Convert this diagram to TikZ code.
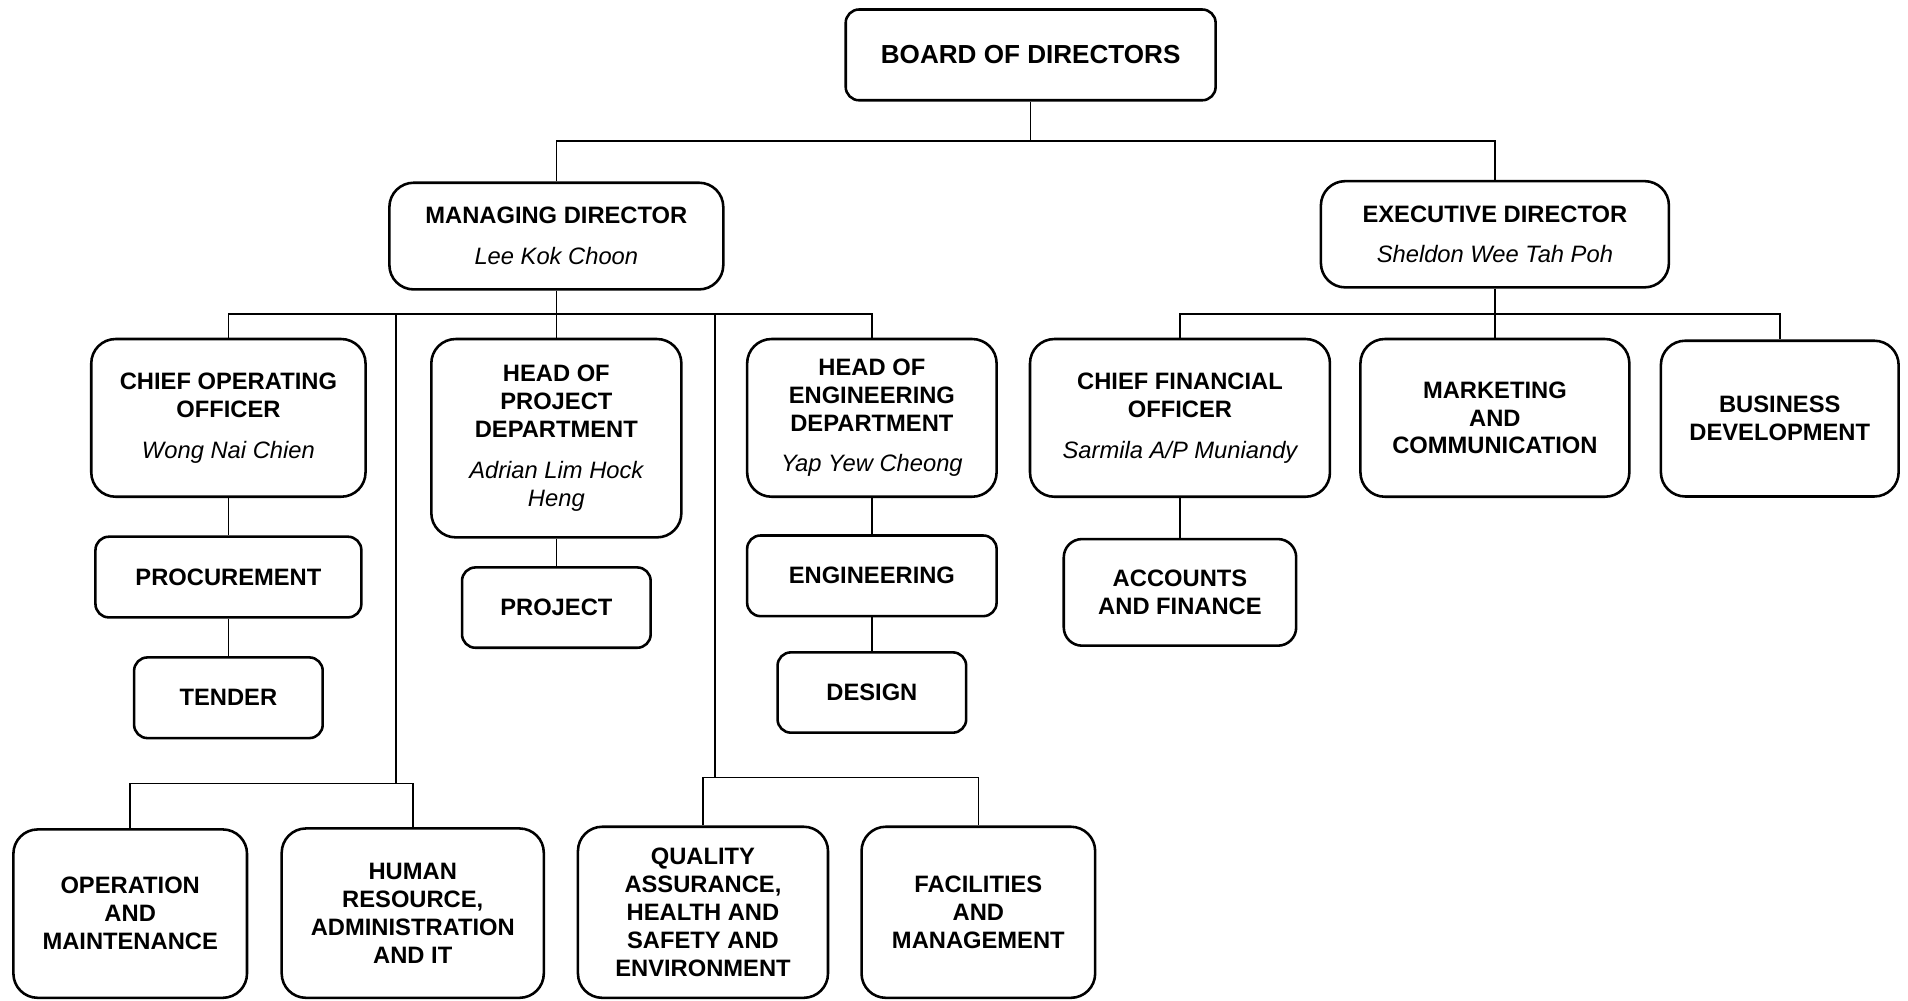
\documentclass[tikz,border=0pt]{standalone}
\usepackage{fontspec}
\setmainfont{Liberation Sans}
\newcommand{\pname}[1]{\\[3pt]{\mdseries\itshape #1}}

\begin{document}
\begin{tikzpicture}[every node/.style={font=\fontsize{5.55}{6.52}\selectfont\bfseries},
unit/.style={draw=black, line width=0.6pt, rounded corners=0.11cm, align=center, inner sep=0pt},
block/.style={unit, rounded corners=0.2cm},
link/.style={draw=black, line width=0.35pt}]
\useasboundingbox (0,0) rectangle (15.68,-8.22);
\node[unit,minimum width=3.04cm,minimum height=0.746cm,font=\fontsize{6.1}{7}\selectfont\bfseries] (board) at (8.47,-0.451) {BOARD OF DIRECTORS};
\node[block,minimum width=2.744cm,minimum height=0.877cm] (md) at (4.572,-1.94) {MANAGING DIRECTOR\pname{Lee Kok Choon}};
\node[block,minimum width=2.86cm,minimum height=0.873cm] (ed) at (12.285,-1.925) {EXECUTIVE DIRECTOR\pname{Sheldon Wee Tah Poh}};
\node[block,minimum width=2.254cm,minimum height=1.296cm] (coo) at (1.877,-3.434) {CHIEF OPERATING\\OFFICER\pname{Wong Nai Chien}};
\node[block,minimum width=2.055cm,minimum height=1.63cm] (hopd) at (4.572,-3.601) {HEAD OF\\PROJECT\\DEPARTMENT\pname{Adrian Lim Hock}\\{\mdseries\itshape Heng}};
\node[block,minimum width=2.05cm,minimum height=1.296cm] (hoed) at (7.165,-3.434) {HEAD OF\\ENGINEERING\\DEPARTMENT\pname{Yap Yew Cheong}};
\node[block,minimum width=2.465cm,minimum height=1.296cm] (cfo) at (9.697,-3.434) {CHIEF FINANCIAL\\OFFICER\pname{Sarmila A/P Muniandy}};
\node[block,minimum width=2.21cm,minimum height=1.296cm] (mkt) at (12.285,-3.434) {MARKETING\\AND\\COMMUNICATION};
\node[block,minimum width=1.954cm,minimum height=1.28cm] (bd) at (14.626,-3.44) {BUSINESS\\DEVELOPMENT};
\node[unit,minimum width=2.185cm,minimum height=0.663cm] (proc) at (1.877,-4.742) {PROCUREMENT};
\node[unit,minimum width=1.55cm,minimum height=0.663cm] (tender) at (1.877,-5.734) {TENDER};
\node[unit,minimum width=1.55cm,minimum height=0.66cm] (project) at (4.572,-4.993) {PROJECT};
\node[unit,minimum width=2.05cm,minimum height=0.663cm] (eng) at (7.165,-4.732) {ENGINEERING};
\node[unit,minimum width=1.55cm,minimum height=0.66cm] (design) at (7.165,-5.691) {DESIGN};
\node[unit,rounded corners=0.15cm,minimum width=1.91cm,minimum height=0.876cm] (acc) at (9.697,-4.868) {ACCOUNTS\\AND FINANCE};
\node[block,minimum width=1.92cm,minimum height=1.384cm] (om) at (1.07,-7.508) {OPERATION\\AND\\MAINTENANCE};
\node[block,minimum width=2.154cm,minimum height=1.392cm] (hr) at (3.392,-7.504) {HUMAN\\RESOURCE,\\ADMINISTRATION\\AND IT};
\node[block,minimum width=2.055cm,minimum height=1.406cm] (qa) at (5.777,-7.497) {QUALITY\\ASSURANCE,\\HEALTH AND\\SAFETY AND\\ENVIRONMENT};
\node[block,minimum width=1.92cm,minimum height=1.406cm] (fac) at (8.04,-7.497) {FACILITIES\\AND\\MANAGEMENT};
\coordinate (topbus) at (0,-1.16);
\coordinate (mdbus) at (0,-2.58);
\coordinate (edbus) at (0,-2.58);
\coordinate (lsplit) at (3.254,-2.58);
\coordinate (lbus) at (3.254,-6.438);
\coordinate (rsplit) at (5.874,-2.58);
\coordinate (rbus) at (5.874,-6.388);
\draw[link] (board.south) -- (board.south |- topbus);
\draw[link] (md.north) |- (ed.north |- topbus) -- (ed.north);
\draw[link] (coo.north) |- (hoed.north |- mdbus) -- (hoed.north);
\draw[link] (md.south) -- (hopd.north);
\draw[link] (lsplit) -- (lbus);
\draw[link] (rsplit) -- (rbus);
\draw[link] (om.north) |- (lbus) -| (hr.north);
\draw[link] (qa.north) |- (rbus) -| (fac.north);
\draw[link] (coo) -- (proc) -- (tender);
\draw[link] (hopd) -- (project);
\draw[link] (hoed) -- (eng) -- (design);
\draw[link] (cfo.north) |- (bd.north |- edbus) -- (bd.north);
\draw[link] (ed.south) -- (mkt.north);
\draw[link] (cfo) -- (acc);
\end{tikzpicture}
\end{document}
